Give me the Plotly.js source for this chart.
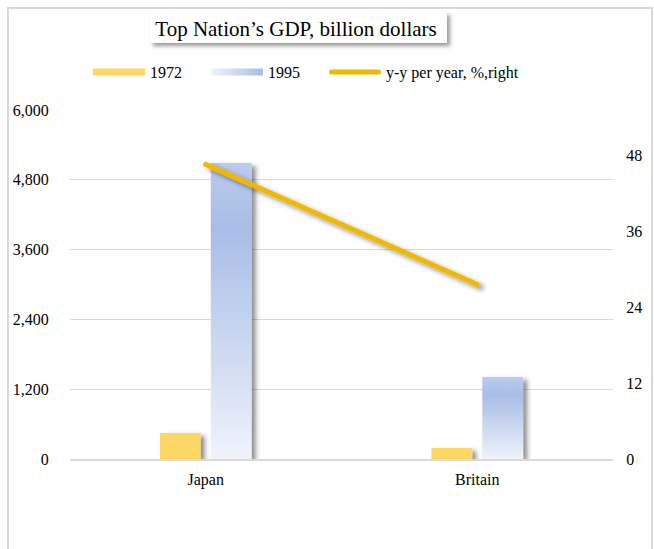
<!DOCTYPE html>
<html>
<head>
<meta charset="utf-8">
<script src="https://cdn.plot.ly/plotly-3.0.1.min.js"></script>
<style>
  html, body { margin:0; padding:0; background:#fff; }
  #wrap { position:relative; width:654px; height:549px; overflow:hidden; }
  #frame { position:absolute; left:7px; top:7px; width:646px; height:560px; border:2px solid #d9d9d9; box-sizing:border-box; }
  #titlebox { position:absolute; left:150px; top:12px; width:297px; height:31px; background:#fff; box-shadow:3px 3px 4px rgba(0,0,0,0.4); }
  #chart { position:absolute; left:0; top:0; width:654px; height:549px; }
</style>
</head>
<body>
<svg width="0" height="0" style="position:absolute">
  <defs>
    <linearGradient id="gradBlue" x1="0" y1="0" x2="0" y2="1">
      <stop offset="0" stop-color="#bccbec"/>
      <stop offset="0.22" stop-color="#a8bde6"/>
      <stop offset="1" stop-color="#eff3fb"/>
    </linearGradient>
    <linearGradient id="gradH" x1="0" y1="0" x2="1" y2="0">
      <stop offset="0" stop-color="#f0f3fb"/>
      <stop offset="1" stop-color="#a8bde6"/>
    </linearGradient>
    <filter id="shadow" x="-30%" y="-10%" width="170%" height="130%">
      <feDropShadow dx="4" dy="3" stdDeviation="2.5" flood-color="#000" flood-opacity="0.45"/>
    </filter>
  </defs>
</svg>
<div id="wrap">
  <div id="frame"></div>
  <div id="titlebox"></div>
  <div id="chart"></div>
</div>
<script>
const categories = ['Japan', 'Britain'];
const gdp1972 = [447, 189];
const gdp1995 = [5090, 1410];
const yyPerYear = [46.6, 27.6];
const leftTicks = [0, 1200, 2400, 3600, 4800, 6000];
const rightTicks = [0, 12, 24, 36, 48];

const serif = '"Liberation Serif", "Times New Roman", serif';

const traces = [
  { type:'bar', name:'1972', x:categories, y:gdp1972, marker:{color:'#fdd764'} },
  { type:'bar', name:'1995', x:categories, y:gdp1995, marker:{color:'#b7c8ea'} },
  { type:'scatter', mode:'lines', name:'y-y per year, %,right', x:categories, y:yyPerYear, yaxis:'y2',
    line:{color:'#f2b800', width:5} }
];

const layout = {
  width:654, height:549,
  paper_bgcolor:'rgba(0,0,0,0)', plot_bgcolor:'rgba(0,0,0,0)',
  margin:{l:70, r:41, t:110, b:90},
  font:{family:serif, size:16, color:'#000'},
  title:{text:'Top Nation’s GDP, billion dollars', font:{family:serif, size:21, color:'#000'},
         x:296/654, xanchor:'center', xref:'container', y:1-29/549, yanchor:'middle', yref:'container'},
  barmode:'group', bargap:0.625, bargroupgap:0.2,
  showlegend:true,
  legend:{orientation:'h', x:(88-70)/543, xanchor:'left', y:1+(110-72)/349, yanchor:'middle',
          itemwidth:52, entrywidth:51, entrywidthmode:'pixels', font:{family:serif, size:16}, traceorder:'normal'},
  xaxis:{type:'category', showgrid:false, showline:true, linecolor:'#d9d9d9', linewidth:2,
         ticks:'outside', ticklen:5, tickcolor:'rgba(0,0,0,0)', tickfont:{size:16}},
  yaxis:{range:[0,6000], tickvals:leftTicks, ticktext:leftTicks.map(v=>v.toLocaleString('en-US')),
         showgrid:true, gridcolor:'#d9d9d9', gridwidth:1, zeroline:false, showline:false,
         ticks:'outside', ticklen:17, tickcolor:'rgba(0,0,0,0)', tickfont:{size:16}},
  yaxis2:{overlaying:'y', side:'right', range:[0,55.2], tickvals:rightTicks,
          showgrid:false, zeroline:false, showline:false,
          ticks:'outside', ticklen:9, tickcolor:'rgba(0,0,0,0)', tickfont:{size:16}}
};

Plotly.newPlot('chart', traces, layout, {displayModeBar:false, staticPlot:true}).then(function(gd){
  const barTraces = gd.querySelectorAll('.barlayer .trace');
  barTraces.forEach(function(t, i){
    t.querySelectorAll('path').forEach(function(p){
      p.setAttribute('filter','url(#shadow)');
      if (i === 1) { p.style.fill = 'url(#gradBlue)'; }
    });
  });
  gd.querySelectorAll('.scatterlayer .js-line').forEach(function(p){
    p.style.strokeLinecap = 'round';
    p.setAttribute('filter','url(#shadow)');
  });
  // let legend text overflow its fixed-width entries
  gd.querySelectorAll('.legend, .legend .scrollbox').forEach(function(el){
    el.removeAttribute('clip-path');
    el.style.clipPath = 'none';
  });
  const items = gd.querySelectorAll('.legend .traces');
  items.forEach(function(it, i){
    if (i < 2) {
      it.querySelectorAll('.legendpoints path').forEach(function(p){
        p.setAttribute('d','M-26,-3.5H26V3.5H-26Z');
        p.style.strokeWidth = '0';
        if (i === 1) { p.style.fill = 'url(#gradH)'; }
      });
    } else {
      it.querySelectorAll('.legendlines path').forEach(function(p){
        p.setAttribute('d','M7.5,0H54.5');
        p.style.strokeLinecap = 'round';
      });
    }
  });
});
</script>
</body>
</html>
